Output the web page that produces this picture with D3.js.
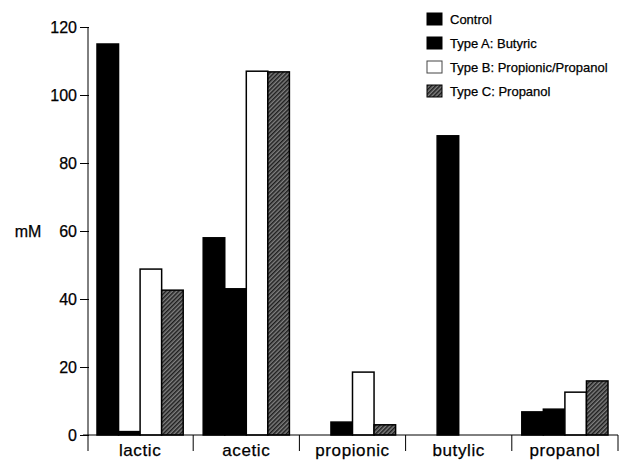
<!DOCTYPE html>
<html>
<head>
<meta charset="utf-8">
<script src="https://cdn.jsdelivr.net/npm/d3@7/dist/d3.min.js"></script>
<style>
  body { margin: 0; background: #fff; }
  svg { display: block; font-family: "Liberation Sans", Arial, sans-serif; }
  text { stroke: #000; stroke-width: 0.25px; }
</style>
</head>
<body>
<svg id="chart" width="622" height="461"></svg>
<script>
const categories = [ "lactic", "acetic", "propionic", "butylic", "propanol" ];
const seriesNames = [ "Control", "Type A: Butyric", "Type B: Propionic/Propanol", "Type C: Propanol" ];
const control = [ 115, 58, 0, 0, 6.8 ];
const typeA = [ 1, 43, 3.8, 88, 7.6 ];
const typeB = [ 48.8, 107, 18.5, 0, 12.6 ];
const typeC = [ 42.6, 106.8, 3, 0, 15.9 ];
const yTicks = [ 0, 20, 40, 60, 80, 100, 120 ];

const series = [ control, typeA, typeB, typeC ];
const fills = [ "#000", "#000", "#fff", "url(#hatch)" ];

const svg = d3.select( "#chart" );
const MARGINS = { top: 27, right: 4, bottom: 26, left: 87 };
const WIDTH = 622;
const HEIGHT = 461;

// texture for type C
const pat = svg.append( "defs" ).append( "pattern" )
  .attr( "id", "hatch" )
  .attr( "patternUnits", "userSpaceOnUse" )
  .attr( "width", 3 )
  .attr( "height", 3 )
  .attr( "patternTransform", "rotate(45)" );
pat.append( "rect" ).attr( "width", 3 ).attr( "height", 3 ).attr( "fill", "#808080" );
pat.append( "rect" ).attr( "width", 1.5 ).attr( "height", 3 ).attr( "fill", "#1e1e1e" );

const x0 = d3.scaleBand()
  .domain( categories )
  .range( [ MARGINS.left, WIDTH - MARGINS.right ] );

const x1 = d3.scaleBand()
  .domain( d3.range( series.length ) )
  .range( [ 10, x0.bandwidth() - 10 ] );

const y = d3.scaleLinear()
  .domain( [ 0, 120 ] )
  .range( [ HEIGHT - MARGINS.bottom, MARGINS.top ] );

const y0 = y( 0 );

// bars
const groups = svg.selectAll( "g.cat" )
  .data( categories )
  .enter()
  .append( "g" )
  .attr( "class", "cat" )
  .attr( "transform", d => `translate(${x0( d )},0)` );

groups.selectAll( "rect" )
  .data( ( d, i ) => series.map( ( s, j ) => ( { j, v: s[i] } ) ) )
  .enter()
  .append( "rect" )
  .filter( d => d.v > 0 )
  .attr( "x", d => x1( d.j ) )
  .attr( "y", d => y( d.v ) )
  .attr( "width", x1.bandwidth() )
  .attr( "height", d => y0 - y( d.v ) )
  .attr( "fill", d => fills[d.j] )
  .attr( "stroke", "#000" )
  .attr( "stroke-width", 1.5 );

// y axis
const yAxis = d3.axisLeft( y ).tickValues( yTicks ).tickSize( 8 ).tickPadding( 3 );
const gy = svg.append( "g" )
  .attr( "transform", `translate(${MARGINS.left + 1},0)` )
  .call( yAxis );
gy.select( ".domain" ).remove();
gy.append( "line" )
  .attr( "y1", y( 120 ) )
  .attr( "y2", y0 + 16 )
  .attr( "stroke", "#000" );
gy.selectAll( ".tick line" ).attr( "x2", -8 ).attr( "x1", 1 );
gy.selectAll( ".tick text" )
  .attr( "fill", "#000" )
  .style( "font-size", "16px" );

// y label
svg.append( "text" )
  .attr( "x", 28 )
  .attr( "y", y( 60 ) )
  .attr( "dy", "0.35em" )
  .attr( "text-anchor", "middle" )
  .style( "font-size", "16px" )
  .text( "mM" );

// x axis
const gx = svg.append( "g" );
gx.append( "line" )
  .attr( "x1", MARGINS.left - 4 )
  .attr( "x2", WIDTH - MARGINS.right )
  .attr( "y1", y0 )
  .attr( "y2", y0 )
  .attr( "stroke", "#000" );
gx.selectAll( "line.div" )
  .data( categories.slice( 1 ).concat( [ null ] ) )
  .enter()
  .append( "line" )
  .attr( "class", "div" )
  .attr( "x1", d => ( d ? x0( d ) : x0.range()[1] ) )
  .attr( "x2", d => ( d ? x0( d ) : x0.range()[1] ) )
  .attr( "y1", y0 )
  .attr( "y2", y0 + 16 )
  .attr( "stroke", "#000" );
gx.selectAll( "text" )
  .data( categories )
  .enter()
  .append( "text" )
  .attr( "x", d => x0( d ) + x0.bandwidth() / 2 )
  .attr( "y", y0 + 21 )
  .attr( "text-anchor", "middle" )
  .style( "font-size", "17px" )
  .style( "letter-spacing", "0.6px" )
  .text( d => d );

// legend
const legend = svg.append( "g" ).attr( "transform", "translate(427,13)" );
const items = legend.selectAll( "g" )
  .data( seriesNames )
  .enter()
  .append( "g" )
  .attr( "transform", ( d, i ) => `translate(0,${i * 24})` );
items.append( "rect" )
  .attr( "width", 15 )
  .attr( "height", 12 )
  .attr( "fill", ( d, i ) => fills[i] )
  .attr( "stroke", ( d, i ) => ( i === 2 ? "#444" : "#000" ) )
  .attr( "stroke-width", 1 );
items.append( "text" )
  .attr( "x", 23 )
  .attr( "y", 6 )
  .attr( "dy", "0.35em" )
  .style( "font-size", "13px" )
  .text( d => d );
</script>
</body>
</html>
